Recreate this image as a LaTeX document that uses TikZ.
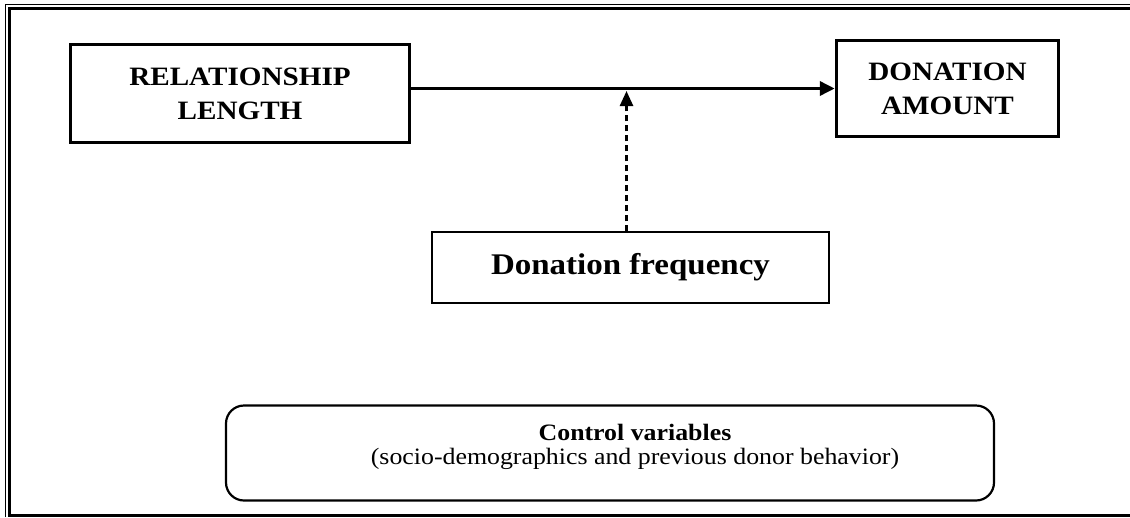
\documentclass[tikz,border=0pt]{standalone}
\usepackage{fontspec}
\setmainfont{Liberation Serif}[FakeStretch=1.1]
\usepackage{tikz}
\usetikzlibrary{positioning, arrows.meta, calc}

\begin{document}
\begin{tikzpicture}[x=1pt, y=-1pt,
	varbox/.style={draw, line width=3.5pt, inner sep=0pt, align=center, font=\fontsize{26.5}{34}\selectfont\bfseries},
	modbox/.style={draw, line width=1.4pt, inner sep=0pt, font=\fontsize{30}{36}\selectfont\bfseries},
	ctrlbox/.style={draw, line width=2.2pt, rounded corners=18pt, inner sep=0pt},
	effect/.style={line width=3.5pt, -{Triangle[length=15pt,width=14pt]}},
	moderate/.style={line width=2.5pt, dash pattern=on 6pt off 4pt, -{Triangle[length=15pt,width=13pt]}, shorten >=2.5pt}]
	\useasboundingbox (0,0) rectangle (1130,517);
	%% frame
	\draw[line width=1pt] (5,517) -- (5,4) -- (1130,4);
	\draw[line width=2.5pt] (1130,515.5) -- (9.5,515.5) -- (9.5,8.5) -- (1130,8.5);
	\node[varbox, minimum width=339pt, minimum height=98pt] (rel) at (240,93.5) {RELATIONSHIP\\LENGTH};
	\node[varbox, minimum width=222pt, minimum height=96pt] (amt) at (947.5,88.5) {DONATION\\AMOUNT};
	\node[modbox, minimum width=397pt, minimum height=71pt] (freq) at (630.5,267.5) {Donation frequency};
	\node[ctrlbox, minimum width=768pt, minimum height=95pt] (ctrl) at (610,453) {};
	\node[align=center, font=\fontsize{23.5}{24}\selectfont] (ctrltxt) at (635,447) {\textbf{Control variables}\\(socio-demographics and previous donor behavior)};
	\draw[effect] (rel.east |- amt.west) -- (amt.west);
	\draw[moderate] ([xshift=-4pt]freq.north) -- ([xshift=-4pt]freq.north |- amt.west);
\end{tikzpicture}
\end{document}
